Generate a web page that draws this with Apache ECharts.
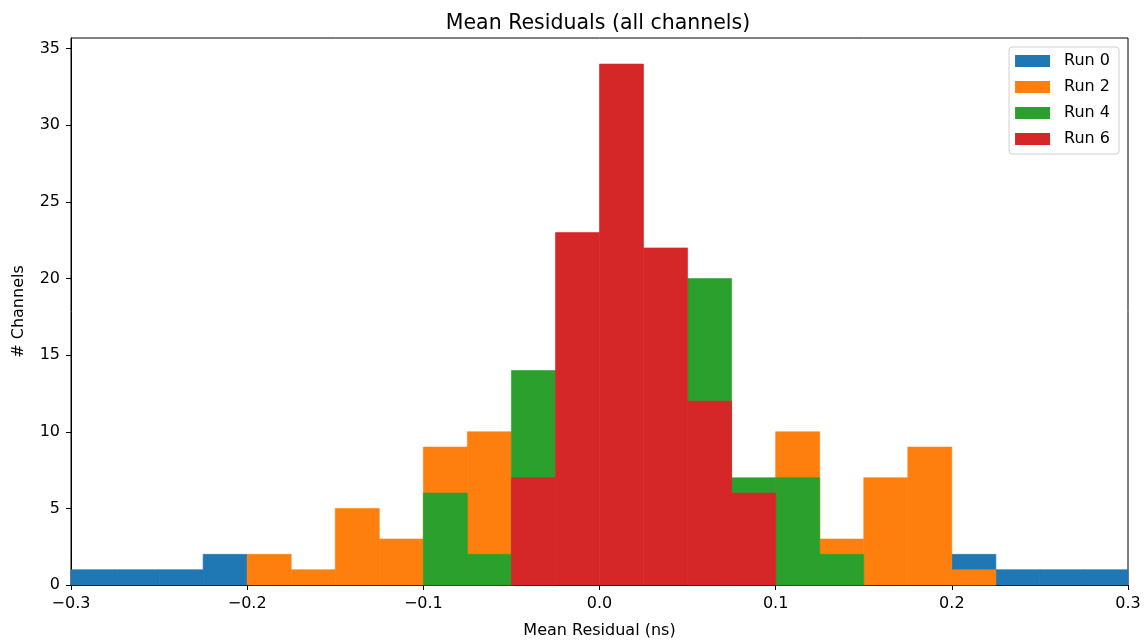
<!DOCTYPE html>
<html>
<head>
<meta charset="utf-8">
<script src="https://cdn.jsdelivr.net/npm/echarts@6/dist/echarts.min.js"></script>
<style>
  html, body { margin: 0; padding: 0; background: #fff; }
  #chart { width: 1145px; height: 641px; }
</style>
</head>
<body>
<div id="chart"></div>
<script>
// bin edges of the histogram (width 0.025 ns)
const binEdges = [-0.3, -0.275, -0.25, -0.225, -0.2, -0.175, -0.15, -0.125, -0.1, -0.075, -0.05, -0.025,
  0, 0.025, 0.05, 0.075, 0.1, 0.125, 0.15, 0.175, 0.2, 0.225, 0.25, 0.275, 0.3]

// counts per bin (bins covered by a later run are left at 0)
const run0 = [1, 1, 1, 2, 0, 0, 0, 0, 0, 0, 0, 0, 0, 0, 0, 0, 0, 0, 0, 0, 2, 1, 1, 1]
const run2 = [0, 0, 0, 0, 2, 1, 5, 3, 9, 10, 0, 0, 0, 0, 0, 0, 10, 3, 7, 9, 1, 0, 0, 0]
const run4 = [0, 0, 0, 0, 0, 0, 0, 0, 6, 2, 14, 0, 0, 0, 20, 7, 7, 2, 0, 0, 0, 0, 0, 0]
const run6 = [0, 0, 0, 0, 0, 0, 0, 0, 0, 0, 7, 23, 34, 22, 12, 6, 0, 0, 0, 0, 0, 0, 0, 0]

const runNames = ['Run 0', 'Run 2', 'Run 4', 'Run 6']
const runColors = ['#1f77b4', '#ff7f0e', '#2ca02c', '#d62728']
const xTicks = [-0.3, -0.2, -0.1, 0, 0.1, 0.2, 0.3]
const yTicks = [0, 5, 10, 15, 20, 25, 30, 35]

const font = 'DejaVu Sans'
const minus = (s) => String(s).replace('-', '\u2212')

function histData(counts) {
  const out = []
  counts.forEach((c, i) => {
    if (c > 0) out.push([binEdges[i], binEdges[i + 1], c])
  })
  return out
}

// one rectangle per bin, from the left edge to the right edge
function renderBin(params, api) {
  const p0 = api.coord([api.value(0), api.value(2)])
  const p1 = api.coord([api.value(1), 0])
  const color = api.visual('color')
  return {
    type: 'rect',
    shape: { x: p0[0], y: p0[1], width: p1[0] - p0[0], height: p1[1] - p0[1] },
    style: { fill: color, stroke: color, lineWidth: 0.6 }
  }
}

const myChart = echarts.init(document.getElementById('chart'))
myChart.setOption({
  animation: false,
  title: {
    text: 'Mean Residuals (all channels)',
    // centred over the plot area, not the whole canvas
    left: 593,
    textAlign: 'center',
    top: 8,
    textStyle: { fontFamily: font, fontSize: 20.5, fontWeight: 'normal', color: '#000' }
  },
  grid: {
    left: 71,
    right: 17,
    top: 38,
    bottom: 56,
    outerBoundsMode: 'none',
    show: true,
    borderColor: '#000',
    borderWidth: 1
  },
  legend: {
    orient: 'vertical',
    right: 26,
    top: 47,
    padding: [6, 9, 7, 6],
    itemWidth: 35,
    itemHeight: 12,
    itemGap: 10,
    borderColor: '#d0d0d0',
    borderWidth: 1,
    borderRadius: 3,
    icon: 'rect',
    textStyle: { fontFamily: font, fontSize: 16, color: '#000', padding: [0, 0, 0, 9] },
    data: runNames
  },
  xAxis: {
    type: 'value',
    min: -0.3,
    max: 0.3,
    interval: 0.1,
    splitLine: { show: false },
    axisLine: { onZero: false, lineStyle: { color: '#000' } },
    axisTick: { show: true, length: 5, lineStyle: { color: '#000' }, customValues: xTicks },
    axisLabel: {
      fontFamily: font, fontSize: 16, color: '#000', margin: 11,
      customValues: xTicks,
      formatter: (v) => minus(v.toFixed(1))
    },
    name: 'Mean Residual (ns)',
    nameLocation: 'middle',
    nameGap: 38,
    nameTextStyle: { fontFamily: font, fontSize: 16, color: '#000' }
  },
  yAxis: {
    type: 'value',
    min: 0,
    max: 35.7,
    splitLine: { show: false },
    axisLine: { show: true, onZero: false, lineStyle: { color: '#000' } },
    axisTick: { show: true, length: 5, lineStyle: { color: '#000' }, customValues: yTicks },
    axisLabel: {
      fontFamily: font, fontSize: 16, color: '#000', margin: 11,
      customValues: yTicks
    },
    name: '# Channels',
    nameLocation: 'middle',
    nameGap: 44,
    nameTextStyle: { fontFamily: font, fontSize: 16, color: '#000' }
  },
  series: [run0, run2, run4, run6].map((counts, i) => ({
    name: runNames[i],
    type: 'custom',
    renderItem: renderBin,
    itemStyle: { color: runColors[i] },
    encode: { x: [0, 1], y: 2 },
    data: histData(counts)
  }))
})
</script>
</body>
</html>
